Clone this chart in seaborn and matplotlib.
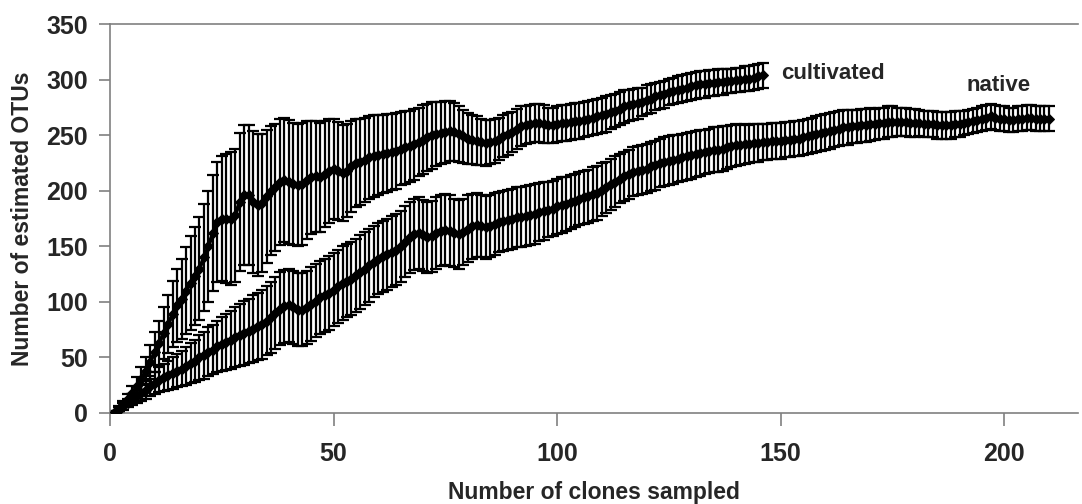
import matplotlib
matplotlib.use("Agg")
import matplotlib.pyplot as plt
import seaborn as sns
import pandas as pd

# mean number of estimated OTUs, one value per number of clones sampled (1..146)
cultivated_mean = [
    1, 4, 8, 13, 18, 24, 31, 38, 46, 55,
    63, 72, 80, 89, 97, 103, 110, 117, 123, 130,
    140, 150, 162, 172, 175, 175, 175, 178, 190, 196,
    196, 190, 187, 189, 195, 200, 203, 208, 210, 208,
    206, 205, 206, 210, 212, 213, 212, 215, 218, 220,
    218, 216, 218, 222, 225, 226, 228, 230, 231, 232,
    233, 234, 235, 236, 238, 239, 240, 242, 244, 246,
    248, 250, 251, 252, 253, 254, 253, 251, 249, 247,
    246, 245, 244, 243, 244, 245, 247, 249, 251, 253,
    256, 258, 259, 260, 261, 261, 260, 259, 259, 260,
    261, 261, 262, 263, 263, 264, 265, 266, 267, 268,
    269, 271, 272, 274, 276, 277, 278, 279, 280, 282,
    283, 285, 286, 287, 289, 290, 291, 292, 293, 294,
    295, 296, 296, 297, 297, 298, 298, 299, 299, 300,
    300, 301, 301, 302, 303, 304,
]
cultivated_err = [
    1, 2, 3, 4, 6, 8, 10, 12, 15, 18,
    20, 23, 26, 30, 33, 36, 39, 42, 44, 46,
    48, 50, 52, 54, 56, 58, 60, 60, 62, 63,
    63, 64, 64, 62, 60, 58, 57, 57, 56, 56,
    55, 55, 55, 53, 51, 50, 49, 48, 47, 45,
    44, 43, 42, 41, 40, 39, 38, 37, 37, 36,
    35, 35, 34, 34, 33, 33, 32, 32, 31, 31,
    30, 30, 29, 28, 28, 27, 26, 25, 24, 23,
    22, 22, 21, 21, 20, 20, 19, 19, 19, 18,
    18, 18, 17, 17, 17, 17, 17, 16, 16, 16,
    16, 16, 16, 16, 16, 16, 16, 16, 16, 16,
    16, 15, 15, 15, 15, 14, 14, 14, 13, 13,
    13, 12, 12, 12, 12, 12, 12, 12, 12, 12,
    12, 12, 12, 12, 12, 12, 12, 11, 11, 11,
    11, 11, 11, 11, 11, 11,
]

# native soil, 1..210 clones
native_mean = [
    1, 3, 6, 9, 12, 15, 18, 21, 24, 27,
    30, 32, 34, 36, 38, 40, 42, 45, 47, 50,
    52, 55, 57, 60, 62, 64, 66, 68, 70, 72,
    74, 76, 78, 80, 83, 86, 90, 94, 96, 97,
    95, 93, 93, 95, 98, 101, 104, 106, 108, 111,
    114, 117, 119, 121, 124, 127, 130, 133, 136, 139,
    141, 143, 145, 147, 150, 154, 158, 161, 162, 160,
    158, 159, 162, 164, 165, 164, 162, 161, 163, 166,
    168, 169, 168, 167, 168, 170, 172, 173, 174, 175,
    176, 176, 177, 178, 179, 181, 182, 183, 184, 186,
    187, 188, 190, 191, 193, 194, 195, 197, 198, 201,
    203, 206, 208, 211, 213, 215, 217, 218, 219, 220,
    222, 223, 225, 226, 227, 228, 229, 230, 231, 232,
    233, 234, 235, 236, 237, 237, 238, 239, 240, 241,
    241, 242, 242, 243, 243, 244, 244, 245, 245, 245,
    246, 246, 247, 247, 248, 249, 250, 251, 252, 253,
    254, 255, 256, 257, 257, 258, 258, 259, 259, 260,
    260, 261, 261, 262, 262, 262, 262, 262, 261, 261,
    261, 260, 260, 260, 259, 259, 259, 259, 260, 260,
    261, 262, 263, 264, 265, 266, 267, 266, 265, 265,
    264, 264, 265, 265, 266, 266, 265, 265, 265, 265,
]
native_err = [
    1, 2, 3, 4, 5, 6, 7, 8, 9, 10,
    11, 12, 13, 14, 15, 16, 17, 18, 19, 20,
    21, 22, 22, 23, 24, 25, 26, 27, 28, 29,
    29, 30, 30, 31, 31, 32, 32, 33, 33, 33,
    33, 33, 33, 33, 33, 33, 33, 33, 33, 33,
    33, 33, 33, 33, 33, 33, 33, 33, 32, 32,
    32, 32, 32, 32, 32, 32, 32, 32, 32, 32,
    32, 32, 32, 32, 32, 32, 31, 31, 30, 30,
    29, 29, 28, 28, 28, 28, 27, 27, 27, 27,
    27, 27, 27, 27, 27, 26, 26, 25, 25, 25,
    25, 24, 24, 24, 24, 24, 24, 24, 24, 24,
    23, 23, 23, 22, 22, 22, 22, 22, 22, 22,
    22, 22, 22, 22, 22, 22, 21, 21, 21, 21,
    21, 21, 20, 20, 20, 20, 20, 19, 19, 19,
    18, 18, 17, 17, 17, 16, 16, 16, 16, 16,
    16, 16, 16, 16, 16, 16, 16, 16, 16, 16,
    16, 16, 16, 16, 16, 15, 15, 15, 15, 15,
    14, 14, 14, 14, 14, 13, 13, 13, 13, 13,
    12, 12, 12, 12, 12, 12, 12, 12, 12, 12,
    11, 11, 11, 11, 11, 11, 11, 11, 11, 11,
    11, 11, 11, 11, 11, 11, 11, 11, 11, 11,
]

cultivated = pd.DataFrame({"clones": range(1, len(cultivated_mean) + 1),
                           "otus": cultivated_mean, "err": cultivated_err})
native = pd.DataFrame({"clones": range(1, len(native_mean) + 1),
                       "otus": native_mean, "err": native_err})

sns.set_style("white")
plt.rcParams["font.family"] = ["Liberation Sans", "DejaVu Sans"]
plt.rcParams["font.weight"] = "bold"

fig = plt.figure(figsize=(10.82, 5.04), dpi=100)
ax = fig.add_axes([0.1017, 0.1806, 0.8946, 0.7714])

for df in (cultivated, native):
    ax.errorbar(df["clones"], df["otus"], yerr=df["err"], fmt="none",
                ecolor="black", elinewidth=1.6, capsize=4.5, capthick=1.6, zorder=2)
    sns.lineplot(data=df, x="clones", y="otus", ax=ax, color="black",
                 marker="D", markersize=5.5, markeredgecolor="black",
                 linewidth=2.8, zorder=3)

ax.text(150, 306, "cultivated", fontsize=16, fontweight="bold", ha="left", va="center")
ax.text(191.5, 295, "native", fontsize=16, fontweight="bold", ha="left", va="center")

ax.set_xlim(0, 216.5)
ax.set_ylim(0, 350)
ax.set_xticks([0, 50, 100, 150, 200])
ax.set_yticks(range(0, 351, 50))

for side in ("left", "bottom", "top"):
    ax.spines[side].set_color("#808080")
    ax.spines[side].set_linewidth(1.2)
ax.spines["right"].set_visible(False)

ax.tick_params(axis="y", direction="out", length=8, width=1.2, color="#808080",
               labelsize=18, pad=8, left=True)
ax.tick_params(axis="x", direction="out", length=9, width=1.2, color="#808080",
               labelsize=18, pad=12, bottom=True)
for lbl in ax.get_xticklabels() + ax.get_yticklabels():
    lbl.set_fontweight("bold")

ax.set_xlabel("Number of clones sampled", fontsize=16.5, fontweight="bold", labelpad=11)
ax.set_ylabel("Number of estimated OTUs", fontsize=16.5, fontweight="bold", labelpad=9)

fig.savefig("out.png", dpi=100)
